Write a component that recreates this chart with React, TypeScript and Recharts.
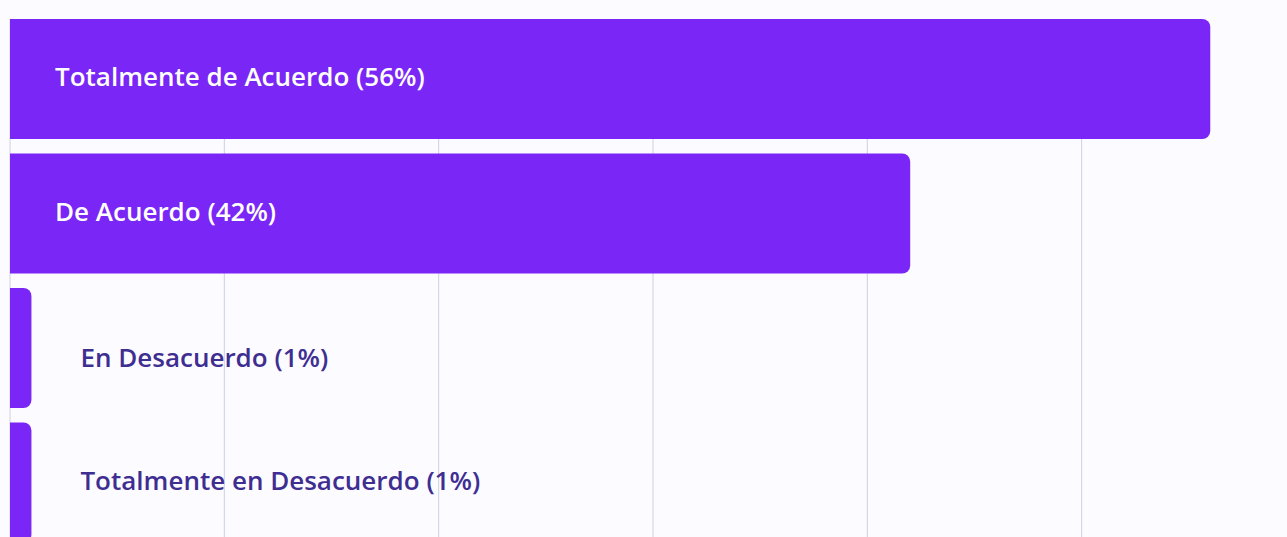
import React from 'react';
import { BarChart, Bar, XAxis, YAxis, CartesianGrid, LabelList } from 'recharts';

const categories = [
  'Totalmente de Acuerdo',
  'De Acuerdo',
  'En Desacuerdo',
  'Totalmente en Desacuerdo'
];
const percentages = [56, 42, 1, 1];
const xTicks = [0, 10, 20, 30, 40, 50, 60];

const data = categories.map((name, i) => ({ name, value: percentages[i] }));

const BAR_COLOR = '#7A26F6';
const LABEL_DARK = '#3F2E91';

// white text inside the long bars, dark text right of the short ones
const BarLabel = (props: any) => {
  const { x, y, width, height, index } = props;
  const text = `${categories[index]} (${percentages[index]}%)`;
  const inside = width > 150;
  const baseline = y + height / 2 + (index === 2 ? 19 : 7);
  return (
    <text
      x={inside ? x + 45 : x + width + 49}
      y={baseline}
      fill={inside ? '#FFFFFF' : LABEL_DARK}
      fontSize={26}
      fontWeight={600}
      fontFamily="'Open Sans', sans-serif"
    >
      {text}
    </text>
  );
};

const App: React.FC = () => {
  return (
    <div style={{ width: 1287, height: 537, overflow: 'hidden', background: '#FCFBFF' }}>
      <style>{`body { margin: 0; background: #FCFBFF; }`}</style>
      <BarChart
        width={1300}
        height={550}
        data={data}
        layout="vertical"
        margin={{ top: 12, right: 4, left: 10, bottom: 0 }}
      >
        <CartesianGrid vertical horizontal={false} stroke="#CDD0E2" y={19} height={560} />
        <XAxis type="number" domain={[0, 60]} ticks={xTicks} hide />
        <YAxis
          type="category"
          dataKey="name"
          width={0}
          tick={false}
          tickLine={false}
          axisLine={{ stroke: '#8A98AE' }}
        />
        <Bar dataKey="value" fill={BAR_COLOR} barSize={120} radius={[0, 8, 8, 0]} isAnimationActive={false}>
          <LabelList dataKey="value" content={BarLabel} />
        </Bar>
      </BarChart>
    </div>
  );
};

export default App;
